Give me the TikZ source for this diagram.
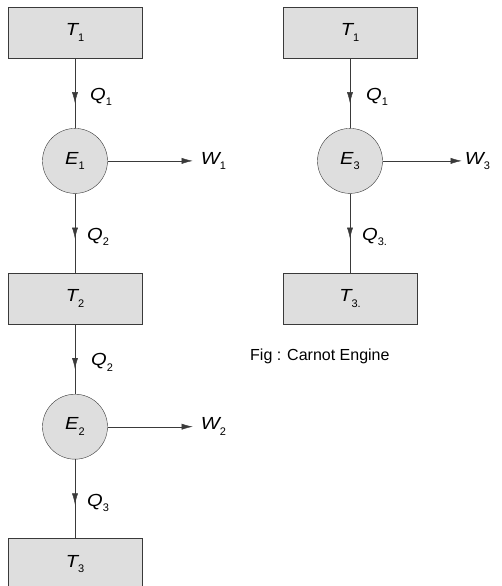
\documentclass[tikz,border=0pt]{standalone}
\usepackage{fontspec}
\setmainfont{Liberation Sans}
\newfontfamily\symfont[FakeStretch=1.15]{Liberation Sans}
\usetikzlibrary{arrows.meta,positioning,decorations.markings}
\usepackage{xcolor}
\definecolor{carnotFill}{HTML}{DEDEDE}
\definecolor{carnotLine}{HTML}{3A3A3A}
\newcommand{\heatsym}[2]{{\symfont\itshape #1}\raisebox{-.6ex}{\fontsize{11}{11}\selectfont #2}}

\begin{document}
\begin{tikzpicture}[x=1pt,y=-1pt,node distance=70pt,>={Latex[length=11pt,width=6pt]}]
  \tikzstyle{resbox}=[draw=carnotLine,fill=carnotFill,minimum width=134pt,minimum height=51pt,inner sep=0pt,font=\fontsize{17.5}{20}\selectfont]
  \tikzstyle{engine}=[circle,draw=carnotLine,fill=carnotFill,minimum size=65pt,inner sep=0pt,font=\fontsize{17.5}{20}\selectfont]
  \tikzstyle{lbl}=[inner sep=1pt,font=\fontsize{17.5}{20}\selectfont]
  \tikzstyle{flow}=[draw=carnotLine,postaction=decorate,decoration={markings,mark=at position 45pt with {\arrow{Latex[length=11pt,width=6pt]}}}]
  \useasboundingbox (0,0) rectangle (501,586);
  % left column: two engines in series
  \node[resbox] (t1) at (75,32.5) {\heatsym{T}{1}};
  \node[engine,below=of t1] (e1) {\heatsym{E}{1}};
  \node[resbox,below=79pt of e1] (t2) {\heatsym{T}{2}};
  \node[engine,below=of t2] (e2) {\heatsym{E}{2}};
  \node[resbox,below=79pt of e2] (t3) {\heatsym{T}{3}};
  % right column: single engine
  \node[resbox] (rt1) at (350,32.5) {\heatsym{T}{1}};
  \node[engine,below=of rt1] (e3) {\heatsym{E}{3}};
  \node[resbox,below=79pt of e3] (rt3) {\heatsym{T}{3.}};
  % work outputs
  \node[lbl,right=92pt of e1] (w1) {\heatsym{W}{1}};
  \node[lbl,right=92pt of e2] (w2) {\heatsym{W}{2}};
  \node[lbl,right=81pt of e3] (w3) {\heatsym{W}{3}};
  \foreach \e/\w/\s in {e1/w1/7pt,e2/w2/7pt,e3/w3/2pt}{\draw[->,draw=carnotLine,shorten >=\s] (\e.east) -- (\e.east -| \w.west);}
  % heat flows
  \foreach \a/\b/\q/\d in {t1/e1/{\heatsym{Q}{1}}/14pt,e1/t2/{\heatsym{Q}{2}}/11pt,t2/e2/{\heatsym{Q}{2}}/15pt,e2/t3/{\heatsym{Q}{3}}/11pt,rt1/e3/{\heatsym{Q}{1}}/15pt,e3/rt3/{\heatsym{Q}{3.}}/11pt}{\draw[flow] (\a) -- (\b) node[lbl,pos=.55,right=\d] {\q};}
  \node[lbl,anchor=base west,font=\fontsize{16}{19}\selectfont] (cap) at (249,360) {Fig : Carnot Engine};
\end{tikzpicture}
\end{document}
